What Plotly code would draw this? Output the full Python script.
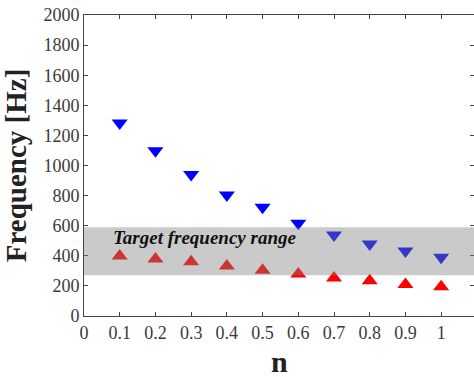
import plotly.graph_objects as go

n_vals = [0.1, 0.2, 0.3, 0.4, 0.5, 0.6, 0.7, 0.8, 0.9, 1.0]
upper_freq = [1282, 1098, 941, 804, 722, 616, 538, 478, 432, 390]
lower_freq = [399, 379, 361, 332, 304, 279, 252, 235, 210, 195]
band_low, band_high = 270, 590
x_ticks = [0, 0.1, 0.2, 0.3, 0.4, 0.5, 0.6, 0.7, 0.8, 0.9, 1.0]
x_tick_text = ["0", "0.1", "0.2", "0.3", "0.4", "0.5", "0.6", "0.7", "0.8", "0.9", "1"]
y_ticks = list(range(0, 2001, 200))

serif = "Times New Roman, Liberation Serif, serif"

fig = go.Figure()
fig.add_trace(go.Scatter(x=n_vals, y=upper_freq, mode="markers",
                         marker=dict(symbol="triangle-down", size=14, color="#0000ff"),
                         showlegend=False))
fig.add_trace(go.Scatter(x=n_vals, y=lower_freq, mode="markers",
                         marker=dict(symbol="triangle-up", size=14, color="#ff0000"),
                         showlegend=False))

fig.add_shape(type="rect", xref="paper", yref="y", x0=0, x1=1, y0=band_low, y1=band_high,
              fillcolor="#808080", opacity=0.42, line=dict(width=0), layer="above")

fig.add_annotation(x=0.075, y=520, xref="x", yref="y", text="<b><i>Target frequency range</i></b>",
                   showarrow=False, xanchor="left", yanchor="middle",
                   font=dict(family=serif, size=19, color="#111111"))

# x-axis title placed as annotation for exact vertical position
fig.add_annotation(x=0.5, y=-0.152, xref="x domain", yref="paper", text="<b>n</b>",
                   showarrow=False, xanchor="center", yanchor="middle",
                   font=dict(family=serif, size=30, color="#222222"))

axis_common = dict(showline=True, linecolor="#444444", linewidth=1, mirror="ticks",
                   ticks="inside", ticklen=4, tickcolor="#444444", showgrid=False, zeroline=False,
                   tickfont=dict(family=serif, size=18, color="#3a3a3a"))

fig.update_xaxes(range=[0, 1.092], tickvals=x_ticks, ticktext=x_tick_text, **axis_common)
fig.update_yaxes(range=[0, 2000], tickvals=y_ticks,
                 title=dict(text="<b>Frequency [Hz]</b>", font=dict(family=serif, size=29, color="#222222"), standoff=8),
                 **axis_common)

fig.update_layout(width=474, height=377, margin=dict(l=84, r=0, t=15, b=61),
                  plot_bgcolor="white", paper_bgcolor="white")

fig.write_html("out.html", config={"displayModeBar": False},
               post_script="document.body.style.margin='0';document.body.style.overflow='hidden';")
